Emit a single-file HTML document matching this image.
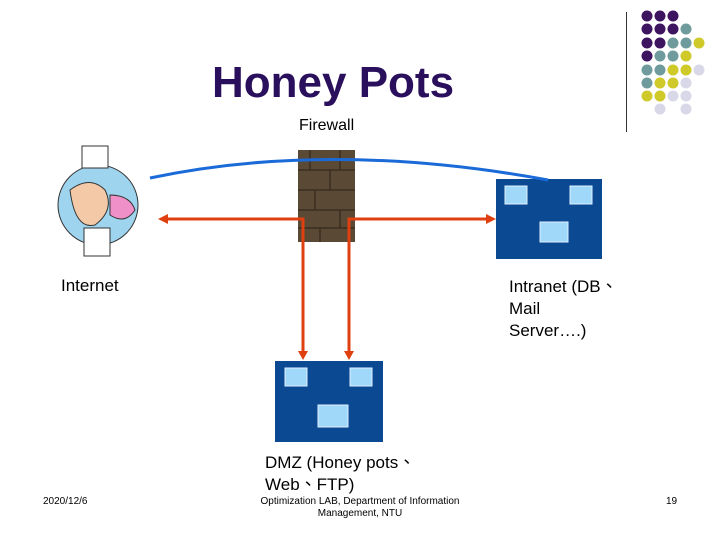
<!DOCTYPE html>
<html><head><style>
body{margin:0;width:720px;height:540px;background:#fff;position:relative;overflow:hidden;font-family:"Liberation Sans","Noto Sans CJK TC",sans-serif}
.t{position:absolute;color:#000}
</style></head><body>
<div style="position:absolute;left:626px;top:12px;width:1px;height:120px;background:#333"></div>
<svg style="position:absolute;left:0;top:0" width="720" height="540">
<g>
<circle cx="647" cy="16" r="5.5" fill="#3d1460"/><circle cx="660" cy="16" r="5.5" fill="#3d1460"/><circle cx="673" cy="16" r="5.5" fill="#3d1460"/>
<circle cx="647" cy="29" r="5.5" fill="#3d1460"/><circle cx="660" cy="29" r="5.5" fill="#3d1460"/><circle cx="673" cy="29" r="5.5" fill="#3d1460"/><circle cx="686" cy="29" r="5.5" fill="#6f9b9c"/>
<circle cx="647" cy="43" r="5.5" fill="#3d1460"/><circle cx="660" cy="43" r="5.5" fill="#3d1460"/><circle cx="673" cy="43" r="5.5" fill="#6f9b9c"/><circle cx="686" cy="43" r="5.5" fill="#6f9b9c"/><circle cx="699" cy="43" r="5.5" fill="#cfc92a"/>
<circle cx="647" cy="56" r="5.5" fill="#3d1460"/><circle cx="660" cy="56" r="5.5" fill="#6f9b9c"/><circle cx="673" cy="56" r="5.5" fill="#6f9b9c"/><circle cx="686" cy="56" r="5.5" fill="#cfc92a"/>
<circle cx="647" cy="70" r="5.5" fill="#6f9b9c"/><circle cx="660" cy="70" r="5.5" fill="#6f9b9c"/><circle cx="673" cy="70" r="5.5" fill="#cfc92a"/><circle cx="686" cy="70" r="5.5" fill="#cfc92a"/><circle cx="699" cy="70" r="5.5" fill="#d8d8e8"/>
<circle cx="647" cy="83" r="5.5" fill="#6f9b9c"/><circle cx="660" cy="83" r="5.5" fill="#cfc92a"/><circle cx="673" cy="83" r="5.5" fill="#cfc92a"/><circle cx="686" cy="83" r="5.5" fill="#d8d8e8"/>
<circle cx="647" cy="96" r="5.5" fill="#cfc92a"/><circle cx="660" cy="96" r="5.5" fill="#cfc92a"/><circle cx="673" cy="96" r="5.5" fill="#d8d8e8"/><circle cx="686" cy="96" r="5.5" fill="#d8d8e8"/>
<circle cx="660" cy="109" r="5.5" fill="#d8d8e8"/><circle cx="686" cy="109" r="5.5" fill="#d8d8e8"/>
</g>
<circle cx="98" cy="205" r="40" fill="#9fd4ef" stroke="#333"/>
<path d="M70 190 q20 -15 35 0 q10 20 -10 35 q-20 5 -25 -35z" fill="#f4c9a8" stroke="#333"/>
<path d="M110 195 q20 0 25 15 q-10 15 -25 5z" fill="#f090c8" stroke="#333"/>
<rect x="82" y="146" width="26" height="22" fill="#fff" stroke="#333"/>
<rect x="84" y="228" width="26" height="28" fill="#fff" stroke="#333"/>
<rect x="298" y="150" width="57" height="92" fill="#5a4a35"/>
<g stroke="#3a2e20" stroke-width="1.5" fill="none">
<path d="M298 170h57M298 190h57M298 210h57M298 228h57M310 150v20M330 170v20M315 190v20M340 210v18M320 228v14M340 150v20"/>
</g>
<rect x="496" y="179" width="106" height="80" fill="#0b4a93"/>
<rect x="275" y="361" width="108" height="81" fill="#0b4a93"/>
<g fill="#9fd8f8" stroke="#e0f0ff">
<rect x="505" y="186" width="22" height="18"/><rect x="570" y="186" width="22" height="18"/><rect x="540" y="222" width="28" height="20"/>
<rect x="285" y="368" width="22" height="18"/><rect x="350" y="368" width="22" height="18"/><rect x="318" y="405" width="30" height="22"/>
</g>
<path d="M150 178 Q330 140 548 180" stroke="#1a6ad8" stroke-width="3" fill="none"/>
<g stroke="#e04010" stroke-width="3" fill="none">
<path d="M166 219H303V352"/><path d="M488 219H349V352"/>
</g>
<g fill="#e04010">
<path d="M158 219l10-5v10z"/><path d="M496 219l-10-5v10z"/>
<path d="M303 360l-5-9h10z"/><path d="M349 360l-5-9h10z"/>
</g>
</svg>
<div class="t" style="left:212px;top:58px;font-size:44px;font-weight:bold;color:#2a0f5c">Honey Pots</div>
<div class="t" style="left:299px;top:117px;font-size:16px">Firewall</div>
<div class="t" style="left:61px;top:276px;font-size:17px">Internet</div>
<div class="t" style="left:509px;top:276px;font-size:17px;line-height:22px">Intranet (DB、<br>Mail<br>Server….)</div>
<div class="t" style="left:265px;top:452px;font-size:17px;line-height:22px">DMZ (Honey pots、<br>Web、FTP)</div>
<div class="t" style="left:43px;top:496px;font-size:10px">2020/12/6</div>
<div class="t" style="left:250px;top:496px;width:220px;text-align:center;font-size:10px;line-height:12px">Optimization LAB, Department of Information Management, NTU</div>
<div class="t" style="left:666px;top:496px;font-size:10px">19</div>
</body></html>
